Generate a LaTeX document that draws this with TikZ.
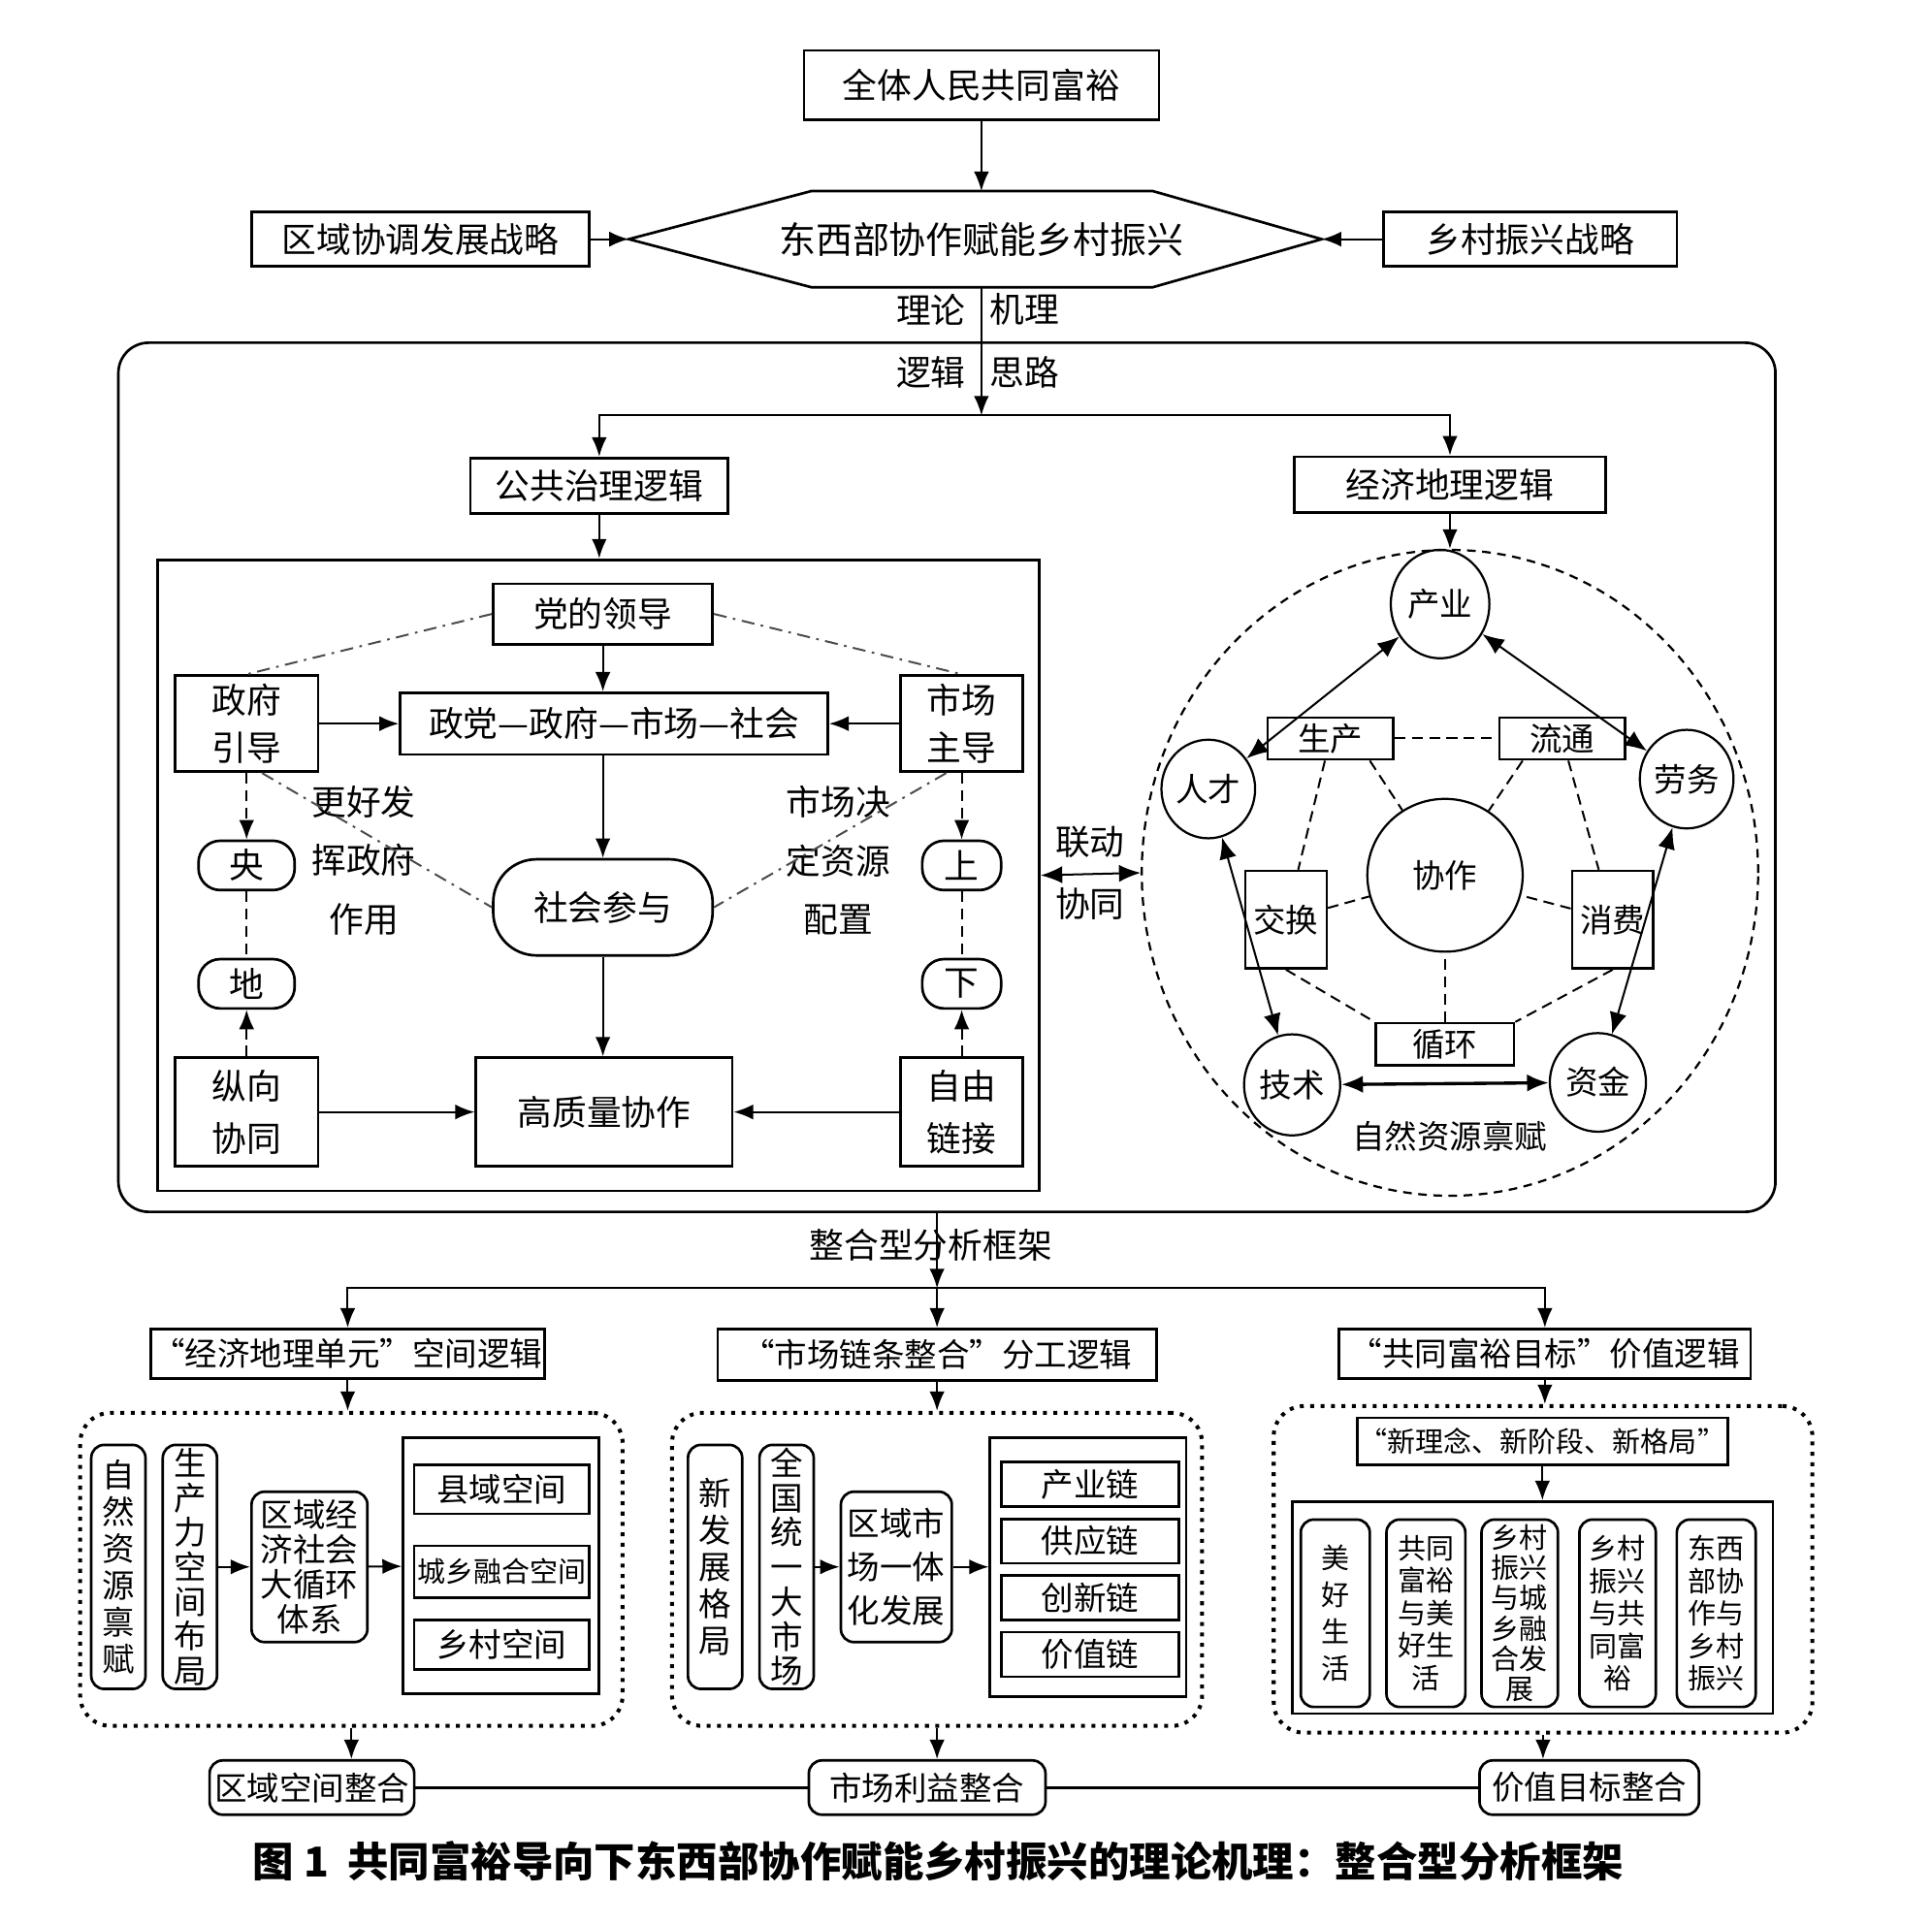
\documentclass[tikz,border=0pt]{standalone}
\usepackage{fontspec}
\setmainfont{Noto Sans CJK SC}
\usetikzlibrary{arrows.meta,shapes.geometric}

\tikzset{
  box/.style={draw, line width=1.2pt, inner sep=1pt, align=center, font=\fontsize{16pt}{22pt}\selectfont},
  rbox/.style={box, rounded corners=6pt},
  lab/.style={inner sep=1pt, align=center, font=\fontsize{16pt}{20pt}\selectfont},
  vt/.style={font=\fontsize{15pt}{17pt}\selectfont},
  vs/.style={font=\fontsize{13pt}{15pt}\selectfont, inner sep=0pt},
  grp/.style={draw, line width=1.8pt, dash pattern=on 1.8pt off 3pt, rounded corners=14pt},
  ell/.style={draw, ellipse, line width=1pt, inner sep=0pt, font=\fontsize{15pt}{18pt}\selectfont},
  lnk/.style={line width=0.9pt, -{Latex[length=9pt,width=7pt]}},
  blnk/.style={line width=0.9pt, {Latex[length=10pt,width=8pt]}-{Latex[length=10pt,width=8pt]}},
  dsh/.style={line width=0.9pt, dash pattern=on 5pt off 3pt},
  dlk/.style={dsh, -{Latex[length=9pt,width=7pt]}},
  dsd/.style={line width=0.9pt, black!70, dash pattern=on 6pt off 3pt on 1.2pt off 3pt},
}

\begin{document}
\begin{tikzpicture}[x=0.02cm, y=-0.02cm]
\useasboundingbox (0,0) rectangle (1567,1561);

% top
\node[box, minimum width=5.76cm, minimum height=1.12cm] (qtrm) at (796,69) {全体人民共同富裕};
\coordinate (hexW) at (510,194);
\coordinate (hexE) at (1072,194);
\coordinate (hexN) at (796,155);
\coordinate (hexS) at (796,233);
\draw[line width=1.2pt] (hexW) -- (658,155) -- (935,155) -- (hexE) -- (935,233) -- (658,233) -- cycle;
\node[lab, font=\fontsize{17pt}{20pt}\selectfont] (dxb) at (796,194) {东西部协作赋能乡村振兴};
\node[box, minimum width=5.48cm, minimum height=0.88cm] (qytd) at (341,194) {区域协调发展战略};
\node[box, minimum width=4.76cm, minimum height=0.88cm] (xczx) at (1241,194) {乡村振兴战略};
\draw[lnk] (qtrm) -- (hexN);
\draw[lnk] (qytd) -- (hexW);
\draw[lnk] (xczx) -- (hexE);

% frame
\draw[line width=1.2pt, rounded corners=14pt] (96,278) rectangle (1440,983);
\node[lab] (ll) at (755,251) {理论};
\node[lab] (jl) at (831,251) {机理};
\node[lab] (lj) at (755,302) {逻辑};
\node[lab] (sl) at (831,302) {思路};
\coordinate (fork1) at (796,337);
\draw[lnk] (hexS) -- (fork1);
\node[box, minimum width=4.18cm, minimum height=0.9cm] (ggzl) at (486,394) {公共治理逻辑};
\node[box, minimum width=5.06cm, minimum height=0.9cm] (jjdl) at (1176,393) {经济地理逻辑};
\draw[lnk] (fork1) -| (ggzl);
\draw[lnk] (fork1) -| (jjdl);

% public governance
\node[draw, line width=1.2pt, minimum width=14.3cm, minimum height=10.24cm] (zlk) at (485.5,710) {};
\draw[lnk] (ggzl.south) -- (ggzl.south |- zlk.north);
\node[box, minimum width=3.56cm, minimum height=0.98cm] (ddld) at (489,498) {党的领导};
\node[box, minimum width=2.32cm, minimum height=1.56cm] (zfyd) at (200,587) {政府\\引导};
\node[box, minimum width=6.94cm, minimum height=1cm] (dzss) at (498,587) {政党—政府—市场—社会};
\node[box, minimum width=1.98cm, minimum height=1.56cm] (sczd) at (780,587) {市场\\主导};
\node[box, rounded corners=10pt, minimum width=1.56cm, minimum height=0.8cm] (yang) at (200,702) {央};
\node[box, rounded corners=10pt, minimum width=1.56cm, minimum height=0.8cm] (di) at (200,798) {地};
\node[box, rounded corners=10pt, minimum width=1.28cm, minimum height=0.8cm] (shang) at (780,702) {上};
\node[box, rounded corners=10pt, minimum width=1.28cm, minimum height=0.8cm] (xia) at (780,798) {下};
\node[box, rounded corners=20pt, minimum width=3.56cm, minimum height=1.56cm] (shcy) at (489,736) {社会参与};
\node[box, minimum width=2.32cm, minimum height=1.76cm, font=\fontsize{16pt}{24pt}\selectfont] (zxxt) at (200,902) {纵向\\协同};
\node[box, minimum width=4.16cm, minimum height=1.76cm] (gzlx) at (490,902) {高质量协作};
\node[box, minimum width=1.98cm, minimum height=1.76cm, font=\fontsize{16pt}{24pt}\selectfont] (zylj) at (780,902) {自由\\链接};
\node[lab, font=\fontsize{16pt}{27pt}\selectfont] (hzf) at (295,698) {更好发\\挥政府\\作用};
\node[lab, font=\fontsize{16pt}{27pt}\selectfont] (zpz) at (680,698) {市场决\\定资源\\配置};

\draw[lnk] (ddld.south) -- (ddld.south |- dzss.north);
\draw[lnk] (zfyd) -- (dzss);
\draw[lnk] (sczd) -- (dzss);
\draw[lnk] (shcy.north |- dzss.south) -- (shcy.north);
\draw[lnk] (shcy.south) -- (shcy.south |- gzlx.north);
\draw[lnk] (zxxt) -- (gzlx);
\draw[lnk] (zylj) -- (gzlx);
\draw[dlk] (zfyd) -- (yang);
\draw[dsh] (yang) -- (di);
\draw[dlk] (zxxt) -- (di);
\draw[dlk] (sczd) -- (shang);
\draw[dsh] (shang) -- (xia);
\draw[dlk] (zylj) -- (xia);
\draw[dsd] (ddld.west) -- (zfyd.north);
\draw[dsd] (ddld.east) -- (sczd.north);
\draw[dsd] ([xshift=0.25cm]zfyd.south) -- (shcy.west);
\draw[dsd] ([xshift=-0.25cm]sczd.south) -- (shcy.east);

% economic geography
\node[draw, ellipse, line width=1pt, dash pattern=on 4pt off 3pt, minimum width=10cm, minimum height=10.48cm] (ring) at (1176,708) {};
\draw[lnk] (jjdl) -- (ring.north);
\draw[blnk] (zlk.east) -- (ring.west);
\node[lab] (ld) at (884,683) {联动};
\node[lab] (xt) at (884,733) {协同};
\node[ell, minimum width=1.6cm, minimum height=1.76cm] (cy) at (1168,490) {产业};
\node[ell, minimum width=1.52cm, minimum height=1.6cm] (rc) at (980,640) {人才};
\node[ell, minimum width=1.52cm, minimum height=1.6cm] (lw) at (1368,632) {劳务};
\node[ell, minimum width=1.56cm, minimum height=1.64cm] (js) at (1048,880) {技术};
\node[ell, minimum width=1.56cm, minimum height=1.6cm] (zj) at (1296,878) {资金};
\node[ell, minimum width=2.52cm, minimum height=2.48cm] (xz) at (1172,710) {协作};
\node[box, minimum width=2.04cm, minimum height=0.68cm, font=\fontsize{15pt}{18pt}\selectfont] (sc) at (1079,599) {生产};
\node[box, minimum width=2.04cm, minimum height=0.68cm, font=\fontsize{15pt}{18pt}\selectfont] (lt) at (1267,599) {流通};
\node[box, minimum width=1.32cm, minimum height=1.58cm, font=\fontsize{15pt}{18pt}\selectfont] (jh) at (1043,746) {交换};
\node[box, minimum width=1.32cm, minimum height=1.58cm, font=\fontsize{15pt}{18pt}\selectfont] (xf) at (1308,746) {消费};
\node[box, minimum width=2.24cm, minimum height=0.68cm, font=\fontsize{15pt}{18pt}\selectfont] (xh) at (1172,847) {循环};
\node[lab, font=\fontsize{15pt}{18pt}\selectfont] (zrbf) at (1176,922) {自然资源禀赋};

\draw[blnk] (cy) -- (rc);
\draw[blnk] (cy) -- (lw);
\draw[blnk] (rc) -- (js);
\draw[blnk] (lw) -- (zj);
\draw[blnk, line width=1.5pt] (js) -- (zj);
\draw[dsh] (sc) -- (lt);
\draw[dsh] ([xshift=-0.4cm]sc.south east) -- (xz);
\draw[dsh] ([xshift=0.4cm]lt.south west) -- (xz);
\draw[dsh] (jh) -- (xz);
\draw[dsh] (xf) -- (xz);
\draw[dsh] (xh) -- (xz);
\draw[dsh] (sc) -- (jh);
\draw[dsh] (lt) -- (xf);
\draw[dsh] (jh.south) -- (xh.north west);
\draw[dsh] (xf.south) -- (xh.north east);

% integration
\coordinate (fbot) at (760,983);
\coordinate (fork2) at (760,1045);
\draw[lnk] (fbot) -- (fork2);
\node[lab] (zhx) at (755,1010) {整合型分析框架};
\node[box, minimum width=6.16cm, minimum height=0.8cm, font=\fontsize{15pt}{18pt}\selectfont] (jjdy) at (282,1098) {“经济地理单元”空间逻辑};
\node[box, minimum width=7.12cm, minimum height=0.84cm, font=\fontsize{15pt}{18pt}\selectfont] (scll) at (760,1099) {“市场链条整合”分工逻辑};
\node[box, minimum width=6.68cm, minimum height=0.8cm, font=\fontsize{15pt}{18pt}\selectfont] (gtfy) at (1253,1098) {“共同富裕目标”价值逻辑};
\draw[lnk] (fork2) -| (jjdy);
\draw[lnk] (fork2) -- (scll);
\draw[lnk] (fork2) -| (gtfy);

\node[grp, minimum width=8.8cm, minimum height=5.08cm] (kjz) at (285,1273) {};
\node[grp, minimum width=8.6cm, minimum height=5.08cm] (fgz) at (760,1273) {};
\node[grp, minimum width=8.74cm, minimum height=5.3cm] (jzz) at (1251.5,1273) {};
\draw[lnk] (jjdy.south) -- (jjdy.south |- kjz.north);
\draw[lnk] (scll) -- (fgz);
\draw[lnk] (gtfy.south) -- (gtfy.south |- jzz.north);

% space logic
\node[rbox, vt, minimum width=0.88cm, minimum height=3.96cm] (zrzy) at (96,1271) {自\\然\\资\\源\\禀\\赋};
\node[rbox, vt, font=\fontsize{15pt}{16pt}\selectfont, minimum width=0.88cm, minimum height=3.96cm] (sclk) at (154,1271) {生\\产\\力\\空\\间\\布\\局};
\node[rbox, font=\fontsize{15pt}{16pt}\selectfont, minimum width=1.88cm, minimum height=2.44cm] (dxh) at (251,1271) {区域经\\济社会\\大循环\\体系};
\node[box, minimum width=3.18cm, minimum height=4.16cm] (kjk) at (406.5,1270) {};
\node[box, minimum width=2.84cm, minimum height=0.8cm, font=\fontsize{15pt}{18pt}\selectfont] (xykj) at (407,1208) {县域空间};
\node[box, minimum width=2.84cm, minimum height=0.84cm, font=\fontsize{13pt}{16pt}\selectfont] (cxrh) at (407,1275) {城乡融合空间};
\node[box, minimum width=2.84cm, minimum height=0.8cm, font=\fontsize{15pt}{18pt}\selectfont] (xckj) at (407,1334) {乡村空间};
\draw[lnk] (sclk) -- (dxh);
\draw[lnk] (dxh) -- (kjk);

% division logic
\node[rbox, vt, minimum width=0.88cm, minimum height=3.96cm] (xfzg) at (580,1271) {新\\发\\展\\格\\局};
\node[rbox, vt, font=\fontsize{15pt}{16pt}\selectfont, minimum width=0.88cm, minimum height=3.96cm] (qgty) at (638,1271) {全\\国\\统\\一\\大\\市\\场};
\node[rbox, font=\fontsize{15pt}{20pt}\selectfont, minimum width=1.8cm, minimum height=2.44cm] (qysc) at (727,1271) {区域市\\场一体\\化发展};
\node[box, minimum width=3.18cm, minimum height=4.2cm] (lzk) at (882.5,1271) {};
\node[box, minimum width=2.88cm, minimum height=0.72cm, font=\fontsize{15pt}{18pt}\selectfont] (cyl) at (884,1204) {产业链};
\node[box, minimum width=2.88cm, minimum height=0.72cm, font=\fontsize{15pt}{18pt}\selectfont] (gyl) at (884,1250) {供应链};
\node[box, minimum width=2.88cm, minimum height=0.72cm, font=\fontsize{15pt}{18pt}\selectfont] (cxl) at (884,1296) {创新链};
\node[box, minimum width=2.88cm, minimum height=0.72cm, font=\fontsize{15pt}{18pt}\selectfont] (jzl) at (884,1342) {价值链};
\draw[lnk] (qgty) -- (qysc);
\draw[lnk] (qysc) -- (lzk);

% value logic
\node[box, minimum width=5.8cm, minimum height=0.76cm, font=\fontsize{13pt}{16pt}\selectfont] (xln) at (1251,1169) {“新理念、新阶段、新格局”};
\node[box, minimum width=7.8cm, minimum height=3.44cm] (mbk) at (1243,1304) {};
\draw[lnk] (xln.south) -- (xln.south |- mbk.north);
\node[rbox, vs, font=\fontsize{13pt}{17pt}\selectfont, minimum width=1.12cm, minimum height=3.04cm] (mhsh) at (1083,1308.6) {美\\好\\生\\活};
\node[rbox, vs, minimum width=1.28cm, minimum height=3.04cm] (gtmh) at (1156.5,1308.6) {共同\\富裕\\与美\\好生\\活};
\node[rbox, vs, font=\fontsize{13pt}{14pt}\selectfont, minimum width=1.24cm, minimum height=3.04cm] (cxrf) at (1232.6,1308.6) {乡村\\振兴\\与城\\乡融\\合发\\展};
\node[rbox, vs, minimum width=1.24cm, minimum height=3.04cm] (zxgt) at (1312,1308.6) {乡村\\振兴\\与共\\同富\\裕};
\node[rbox, vs, minimum width=1.28cm, minimum height=3.04cm] (dxzx) at (1392,1308.6) {东西\\部协\\作与\\乡村\\振兴};

% results
\node[rbox, font=\fontsize{15pt}{18pt}\selectfont, minimum width=3.32cm, minimum height=0.88cm] (qykj) at (253,1450) {区域空间整合};
\node[rbox, font=\fontsize{15pt}{18pt}\selectfont, minimum width=3.84cm, minimum height=0.88cm] (scly) at (752,1450) {市场利益整合};
\node[rbox, font=\fontsize{15pt}{18pt}\selectfont, minimum width=3.56cm, minimum height=0.88cm] (jzmb) at (1289,1450) {价值目标整合};
\draw[lnk] (kjz.south) -- (kjz.south |- qykj.north);
\draw[lnk] (fgz.south) -- (fgz.south |- scly.north);
\draw[lnk] (jzz.south) -- (jzz.south |- jzmb.north);
\draw[line width=1.2pt] (qykj) -- (scly);
\draw[line width=1.2pt] (scly) -- (jzmb);

\node[font=\bfseries\fontsize{19pt}{22pt}\selectfont] (cap) at (761,1510) {图 1\ \ 共同富裕导向下东西部协作赋能乡村振兴的理论机理：整合型分析框架};
\end{tikzpicture}
\end{document}
